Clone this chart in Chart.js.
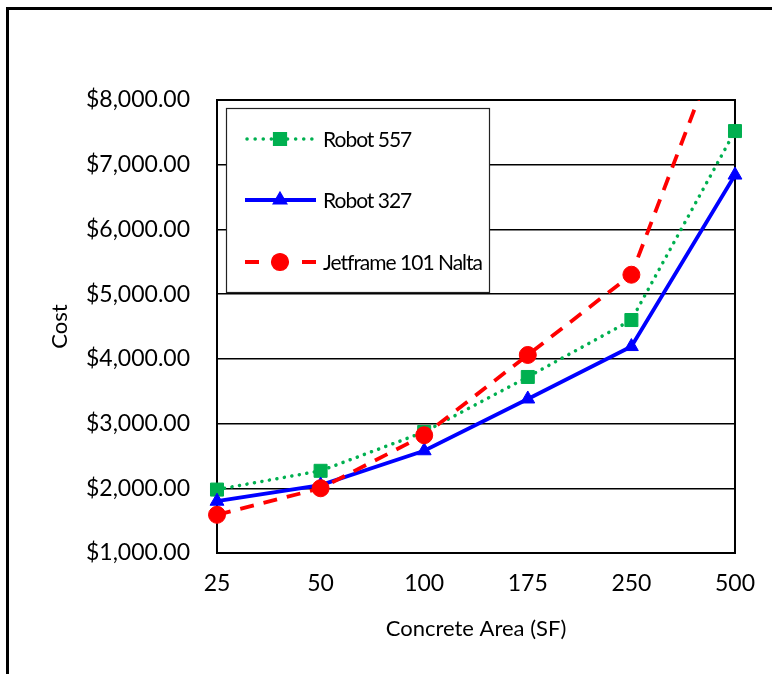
<!DOCTYPE html>
<html>
<head>
<meta charset="utf-8">
<script src="https://cdn.jsdelivr.net/npm/chart.js@4.4.1/dist/chart.umd.min.js"></script>
<style>
  html, body { margin: 0; padding: 0; background: #fff; overflow: hidden; }
  #wrap { position: relative; width: 772px; height: 674px; }
  #frame { position: absolute; left: 6px; top: 7px; width: 820px; height: 720px; border: 3px solid #000; }
  #c { position: absolute; left: 0; top: 0; }
</style>
</head>
<body>
<div id="wrap">
  <div id="frame"></div>
  <canvas id="c" width="772" height="674"></canvas>
</div>
<script>
// Concrete area categories (square feet)
const areaLabels = ['25', '50', '100', '175', '250', '500'];

// Cost per machine, in dollars
const robot557 = [1980, 2270, 2870, 3720, 4600, 7520];
const robot327 = [1800, 2050, 2580, 3380, 4190, 6840];
const jetframe101 = [1590, 2000, 2820, 4060, 5300, 9500];

// Cost axis ticks
const costTicks = [1000, 2000, 3000, 4000, 5000, 6000, 7000, 8000];

const seriesNames = ['Robot 557', 'Robot 327', 'Jetframe 101 Nalta'];

const FONT = 'Lato, "Open Sans", "DejaVu Sans", sans-serif';
const GREEN = '#00B050', BLUE = '#0000FF', RED = '#FF0000';

const fmtMoney = v => '$' + Number(v).toLocaleString('en-US', { minimumFractionDigits: 2, maximumFractionDigits: 2 });

// Black frame round the plot area
const plotFrame = {
  id: 'plotFrame',
  beforeDatasetsDraw(chart) {
    const { ctx, chartArea: a } = chart;
    ctx.save();
    ctx.strokeStyle = '#000';
    ctx.lineWidth = 2;
    ctx.strokeRect(a.left, a.top, a.right - a.left, a.bottom - a.top);
    ctx.restore();
  }
};

// Boxed legend sitting inside the top-left of the plot
const boxLegend = {
  id: 'boxLegend',
  afterDatasetsDraw(chart) {
    const { ctx, chartArea: a } = chart;
    const bx = a.left + 9, by = a.top + 8, bw = 263, bh = 184;
    ctx.save();
    ctx.fillStyle = '#fff';
    ctx.fillRect(bx, by, bw, bh);
    ctx.strokeStyle = '#222';
    ctx.lineWidth = 1.2;
    ctx.strokeRect(bx + 0.5, by + 0.5, bw, bh);

    const rows = [by + 31, by + 92, by + 154];
    const lx0 = bx + 19, lx1 = bx + 90, mx = bx + 54;
    chart.data.datasets.forEach((ds, i) => {
      const y = rows[i];
      ctx.save();
      ctx.strokeStyle = ds.borderColor;
      ctx.lineWidth = ds.borderWidth;
      ctx.lineCap = ds.borderCapStyle || 'butt';
      if (i === 2) {
        ctx.setLineDash([]);
        ctx.beginPath();
        ctx.moveTo(lx0, y); ctx.lineTo(lx0 + 14, y);
        ctx.moveTo(lx1 - 14, y); ctx.lineTo(lx1, y);
        ctx.stroke();
      } else {
        ctx.setLineDash(i === 0 ? [0.1, 8] : []);
        ctx.beginPath();
        ctx.moveTo(lx0 + (i === 0 ? 2 : 0), y);
        ctx.lineTo(lx1, y);
        ctx.stroke();
      }
      ctx.restore();
      ctx.save();
      ctx.fillStyle = ds.pointBackgroundColor;
      ctx.strokeStyle = ds.pointBorderColor;
      Chart.helpers.drawPoint(ctx, {
        pointStyle: ds.pointStyle,
        radius: ds.pointRadius,
        rotation: 0,
        borderWidth: ds.pointBorderWidth
      }, mx, y);
      ctx.restore();

      ctx.save();
      ctx.fillStyle = '#000';
      ctx.font = '21px ' + FONT;
      ctx.letterSpacing = '-1px';
      ctx.textBaseline = 'middle';
      ctx.textAlign = 'left';
      ctx.fillText(seriesNames[i], bx + 97, y + 1);
      ctx.restore();
    });
    ctx.restore();
  }
};

const clipBox = { left: 14, right: 14, top: 0, bottom: 14 };

new Chart(document.getElementById('c'), {
  type: 'line',
  data: {
    labels: areaLabels,
    datasets: [
      {
        label: seriesNames[0],
        data: robot557,
        order: 3,
        borderColor: GREEN,
        borderWidth: 3.5,
        borderDash: [0.1, 7.5],
        borderCapStyle: 'round',
        pointStyle: 'rect',
        pointRadius: 9.2,
        pointBackgroundColor: GREEN,
        pointBorderColor: GREEN,
        pointBorderWidth: 1,
        tension: 0,
        clip: clipBox
      },
      {
        label: seriesNames[1],
        data: robot327,
        order: 2,
        borderColor: BLUE,
        borderWidth: 3.8,
        pointStyle: 'triangle',
        pointRadius: 8,
        pointBackgroundColor: BLUE,
        pointBorderColor: BLUE,
        pointBorderWidth: 1,
        tension: 0,
        clip: clipBox
      },
      {
        label: seriesNames[2],
        data: jetframe101,
        order: 1,
        borderColor: RED,
        borderWidth: 3.8,
        borderDash: [14, 10],
        pointStyle: 'circle',
        pointRadius: 8.5,
        pointBackgroundColor: RED,
        pointBorderColor: RED,
        pointBorderWidth: 1,
        tension: 0,
        clip: clipBox
      }
    ]
  },
  options: {
    responsive: false,
    animation: false,
    devicePixelRatio: 1,
    layout: { padding: { top: 100, right: 35, left: 43, bottom: 28 } },
    plugins: {
      legend: { display: false },
      tooltip: { enabled: false }
    },
    scales: {
      x: {
        offset: false,
        grid: { display: false, drawTicks: false },
        border: { display: false },
        ticks: { color: '#000', font: { family: FONT, size: 23 }, padding: 17, maxRotation: 0 },
        title: { display: true, text: 'Concrete Area (SF)', color: '#000', font: { family: FONT, size: 22 } },
        afterFit(s) { s.height = 93; }
      },
      y: {
        min: 1000,
        max: 8000,
        afterBuildTicks(s) { s.ticks = costTicks.map(v => ({ value: v })); },
        grid: { color: '#000', lineWidth: 1.5, drawTicks: false },
        border: { display: false },
        ticks: { color: '#000', font: { family: FONT, size: 23 }, padding: 27, callback: v => fmtMoney(v) },
        title: { display: true, text: 'Cost', color: '#000', font: { family: FONT, size: 22 } },
        afterFit(s) { s.width = 217 - 43; }
      }
    }
  },
  plugins: [plotFrame, boxLegend]
});
</script>
</body>
</html>
